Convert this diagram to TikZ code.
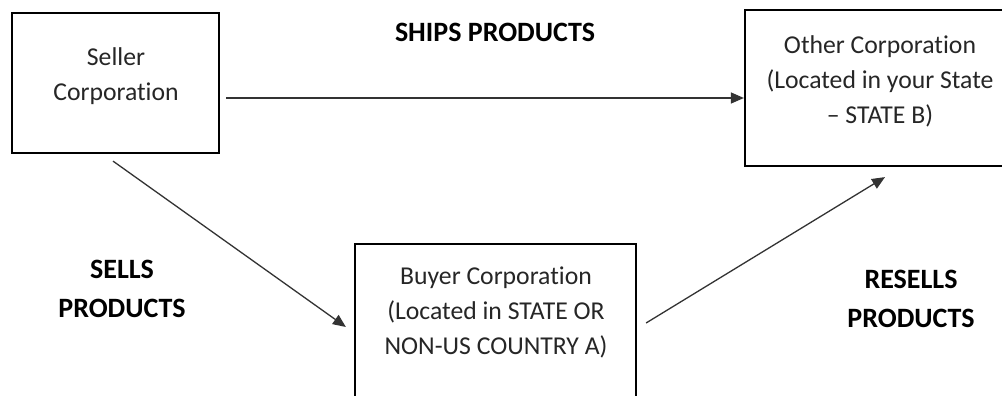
\documentclass[tikz,border=0pt]{standalone}
\usepackage{fontspec}
\setmainfont{Carlito}[Ligatures={NoCommon}]
\usetikzlibrary{arrows.meta}
\begin{document}
\begin{tikzpicture}[x=1pt,y=-1pt,
  box/.style={draw=black, line width=2.2pt, rectangle, inner sep=0pt},
  boxtext/.style={font=\fontsize{25.7}{35}\selectfont, text=black!85, align=center, inner sep=0pt, anchor=north},
  lbl/.style={font=\fontsize{28}{39}\selectfont\bfseries, text=black, align=center, inner sep=0pt},
  arr/.style={line width=1.3pt, draw=black!80, -{Triangle[length=13pt,width=11pt]}}]
\clip (0,0) rectangle (1002,396);
\fill[white] (0,0) rectangle (1002,396);
% boxes
\node[box, minimum width=207pt, minimum height=140pt] (seller) at (115.5,83) {};
\node[box, minimum width=265pt, minimum height=156pt] (other) at (877.5,88) {};
\node[box, minimum width=281pt, minimum height=176pt] (buyer) at (495.5,332) {};
% box texts
\node[boxtext] (sellertext) at (116,47) {Seller\\Corporation};
\node[boxtext] (othertext) at (880,35) {Other Corporation\\(Located in your State\\-- STATE B)};
\node[boxtext] (buyertext) at (496,267) {Buyer Corporation\\(Located in STATE OR\\NON-US COUNTRY A)};
% labels
\node[lbl, anchor=base] (ships) at (495,42) {SHIPS PRODUCTS};
\node[lbl, anchor=north] (sells) at (122,260) {SELLS\\PRODUCTS};
\node[lbl, anchor=north] (resells) at (911,270) {RESELLS\\PRODUCTS};
% connectors
\draw[arr] ([xshift=6pt,yshift=-15pt]seller.east) -- ([yshift=-10pt]other.west);
\draw[arr] ([xshift=-2.5pt,yshift=-7pt]seller.south) -- ([xshift=-8pt,yshift=5pt]buyer.west);
\draw[arr] ([xshift=9pt,yshift=9pt]buyer.east) -- ([xshift=7.5pt,yshift=-10pt]other.south);
\end{tikzpicture}
\end{document}
